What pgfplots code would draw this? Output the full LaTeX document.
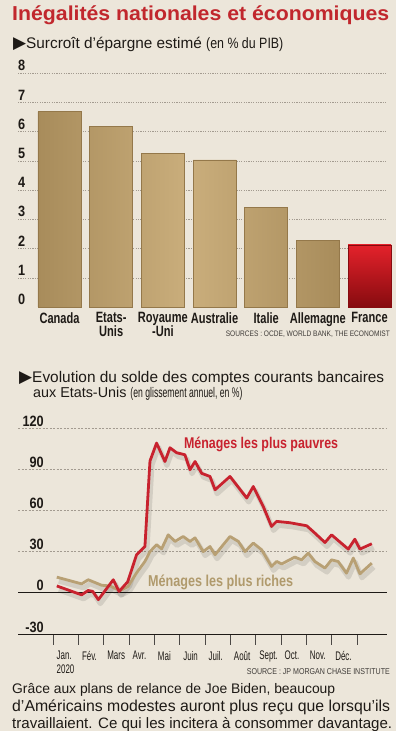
\documentclass[border=0pt]{standalone}
\usepackage{fontspec}
\setmainfont{Liberation Sans}
\newfontfamily\cond[FakeStretch=0.74]{Liberation Sans}
\newfontfamily\condM[FakeStretch=0.80]{Liberation Sans}
\newfontfamily\condN[FakeStretch=0.85]{Liberation Sans}
\newfontfamily\condB[FakeStretch=0.83]{Liberation Sans}
\newfontfamily\condl[FakeStretch=0.64]{Liberation Sans}
\newfontfamily\condp[FakeStretch=0.62]{Liberation Sans}
\newfontfamily\symf{DejaVu Sans}
\usepackage{graphicx}
\usepackage{pgfplots}
\pgfplotsset{compat=1.18}
\definecolor{bg}{HTML}{ECE6DA}
\definecolor{titlered}{HTML}{C1272D}
\definecolor{barC}{HTML}{CAAE7C}
\definecolor{barE}{HTML}{A88C5B}
\definecolor{barD}{HTML}{94784A}
\definecolor{frTop}{HTML}{E4222B}
\definecolor{frBot}{HTML}{860B0F}
\definecolor{redline}{HTML}{C8222E}
\definecolor{tanline}{HTML}{B8A074}
\definecolor{tanlab}{HTML}{B09A6C}
\definecolor{ink}{HTML}{1E1A16}
\definecolor{gridc}{HTML}{A39B90}

\pgfplotstableread{
x y
0.15 5
1.13 -1.5
1.39 1.7
1.57 1
1.79 -5
2.38 9.5
2.61 1
2.95 8
3.30 27.7
3.63 33.7
3.83 96
4.09 109
4.42 95.6
4.62 105.6
4.88 102
5.21 100.5
5.41 89.6
5.61 95.6
5.87 87
6.20 84.7
6.40 75
6.99 84.7
7.65 69
7.91 77.4
8.30 63
8.63 48.3
8.83 52
9.36 51
10.02 48.8
10.34 43.5
10.74 36.6
11.00 42.2
11.66 31.8
11.92 39
12.12 31.8
12.59 35.7
}\pauvres

\pgfplotstableread{
x y
0.15 11.4
1.13 6.5
1.39 9.5
1.92 5.5
2.25 5
2.65 1.5
2.96 4.5
3.30 14.5
3.63 22.8
3.83 30
4.09 35
4.29 32
4.55 42.2
4.82 37.4
5.14 41
5.41 37.4
5.61 40
5.93 30
6.20 33.7
6.40 27.7
6.99 41
7.32 37.4
7.58 30
7.91 36.2
8.24 31.3
8.63 19.2
8.83 22.8
9.03 21
9.55 26
9.82 24
10.08 28.9
10.34 22.8
10.74 18
11.00 24
11.26 22.8
11.59 14.3
11.86 25.3
12.12 13.8
12.59 21.6
}\riches

\begin{document}
\begin{tikzpicture}[x=1bp,y=1bp]
\fill[bg] (0,0) rectangle (396,731);
\useasboundingbox (0,0) rectangle (396,731);

% Title
\node[anchor=base west, inner sep=0pt, text=titlered] at (12,710)
  {\resizebox{377bp}{14.8bp}{\bfseries\fontsize{21}{21}\selectfont Inégalités nationales et économiques}};

% Subtitle 1
\node[anchor=base west, inner sep=0pt, text=ink] at (13,682.5)
  {{\symf\fontsize{17}{17}\selectfont ▶}\fontsize{15.4}{16}\selectfont Surcroît d’épargne estimé {\condB\fontsize{15}{15}\selectfont (en \% du PIB)}};

% Bar chart
\begin{axis}[
  at={(18bp,424bp)}, anchor=south west,
  scale only axis, width=369bp, height=234bp,
  xmin=-0.803, xmax=6.338, ymin=0, ymax=8,
  axis line style={draw=none},
  tick style={draw=none},
  ytick={1,2,3,4,5,6,7,8},
  yticklabels={1,2,3,4,5,6,7,8},
  extra y ticks={0}, extra y tick labels={0},
  extra y tick style={grid=none},
  ymajorgrids,
  grid style={gridc, line width=0.45bp, dash pattern=on 1.2bp off 1.2bp},
  yticklabel style={font=\condN\bfseries\fontsize{15}{15}\selectfont, text=ink, anchor=south west, inner sep=0pt, yshift=2bp},
  xtick={0,1,2,3,4,5,6},
  xticklabels={Canada,{Etats-\\Unis},{Royaume\\-Uni},Australie,Italie,Allemagne,France},
  xticklabel style={font=\cond\bfseries\fontsize{15}{14}\selectfont, text=ink, align=center, anchor=north, inner sep=0pt, yshift=-5bp},
  clip=false,
]
\addplot[ybar, bar width=43bp, bar shift=0pt, draw=barD, line width=0.7bp,
  left color=barE, right color=barE, middle color=barC]
  coordinates {(0,6.68) (1,6.16) (2,5.24) (3,5.03) (4,3.39) (5,2.29)};
\addplot[ybar, bar width=43bp, bar shift=0pt, draw=frBot, line width=0.7bp,
  top color=frTop, bottom color=frBot]
  coordinates {(6,2.12)};
\end{axis}

% Source 1
\node[anchor=base east, inner sep=0pt, text=ink!85] at (390,394)
  {\resizebox{164bp}{!}{\condB\fontsize{8}{8}\selectfont SOURCES : OCDE, WORLD BANK, THE ECONOMIST}};

% Subtitle 2
\node[anchor=base west, inner sep=0pt, text=ink] at (19,348)
  {{\symf\fontsize{17}{17}\selectfont ▶}\resizebox{352bp}{!}{\fontsize{15.4}{16}\selectfont Evolution du solde des comptes courants bancaires}};
\node[anchor=base west, inner sep=0pt, text=ink] at (33,333.5)
  {\fontsize{14.4}{16}\selectfont aux Etats-Unis {\condp\fontsize{14}{13}\selectfont (en glissement annuel, en \%)}};

% Line chart
\begin{axis}[
  at={(18bp,97bp)}, anchor=south west,
  scale only axis, width=369bp, height=206bp,
  xmin=-1.382, xmax=13.19, ymin=-30, ymax=120,
  axis line style={draw=none},
  ytick style={draw=none},
  xtick style={draw=ink!80, line width=0.5bp},
  xtick align=outside, major tick length=11bp,
  xtick pos=left,
  ytick={30,60,90,120},
  yticklabels={30,60,90,120},
  extra y ticks={-30,0}, extra y tick labels={-30,0},
  extra y tick style={grid=none},
  ymajorgrids,
  grid style={gridc, line width=0.45bp, dash pattern=on 2bp off 1.5bp},
  yticklabel style={font=\condN\bfseries\fontsize{15}{15}\selectfont, text=ink, anchor=south east, inner sep=0pt, xshift=26bp, yshift=1.5bp},
  xtick={0,1,2,3,4,5,6,7,8,9,10,11,12},
  xticklabels={{Jan.\\2020},Fév.,Mars,Avr.,Mai,Juin,Juil.,Août,Sept.,Oct.,Nov.,Déc.,{}},
  xticklabel style={font=\condl\fontsize{12.5}{14}\selectfont, text=ink, align=left, anchor=north west, inner sep=0pt, xshift=3.5bp, yshift=-6bp},
  clip=false,
]
\draw[ink, line width=0.8bp] (axis cs:-1.382,-30) -- (axis cs:13.19,-30);
\draw[ink, line width=1.4bp] (axis cs:-1.382,0) -- (axis cs:13.19,0);
\addplot[black, opacity=0.10, line width=5bp, line join=round, transform canvas={xshift=2bp,yshift=-4bp}] table[x=x,y=y] {\riches};
\addplot[black, opacity=0.10, line width=5bp, line join=round, transform canvas={xshift=2bp,yshift=-4bp}] table[x=x,y=y] {\pauvres};
\addplot[tanline, line width=2.8bp, line join=round] table[x=x,y=y] {\riches};
\addplot[redline, line width=2.8bp, line join=round] table[x=x,y=y] {\pauvres};
\node[anchor=base west, inner sep=0pt, text=redline] at (axis cs:5.17,104.9)
  {\resizebox{154bp}{!}{\condM\bfseries\fontsize{15}{15}\selectfont Ménages les plus pauvres}};
\node[anchor=base west, inner sep=0pt, text=tanlab] at (axis cs:3.75,4.6)
  {\resizebox{145bp}{!}{\condM\bfseries\fontsize{15}{15}\selectfont Ménages les plus riches}};
\end{axis}

% Source 2
\node[anchor=base east, inner sep=0pt, text=ink!85] at (390,56)
  {\resizebox{143bp}{!}{\condB\fontsize{8}{8}\selectfont SOURCE : JP MORGAN CHASE INSTITUTE}};

% Bottom text
\node[anchor=base west, inner sep=0pt, text=ink] at (12,37)
  {\resizebox{323bp}{!}{\fontsize{15.9}{16}\selectfont Grâce aux plans de relance de Joe Biden, beaucoup}};
\node[anchor=base west, inner sep=0pt, text=ink] at (12,19.5)
  {\resizebox{378bp}{!}{\fontsize{15.9}{16}\selectfont d’Américains modestes auront plus reçu que lorsqu’ils}};
\node[anchor=base west, inner sep=0pt, text=ink] at (12,3)
  {\resizebox{380bp}{!}{\fontsize{15.9}{16}\selectfont travaillaient. Ce qui les incitera à consommer davantage.}};
\end{tikzpicture}
\end{document}
